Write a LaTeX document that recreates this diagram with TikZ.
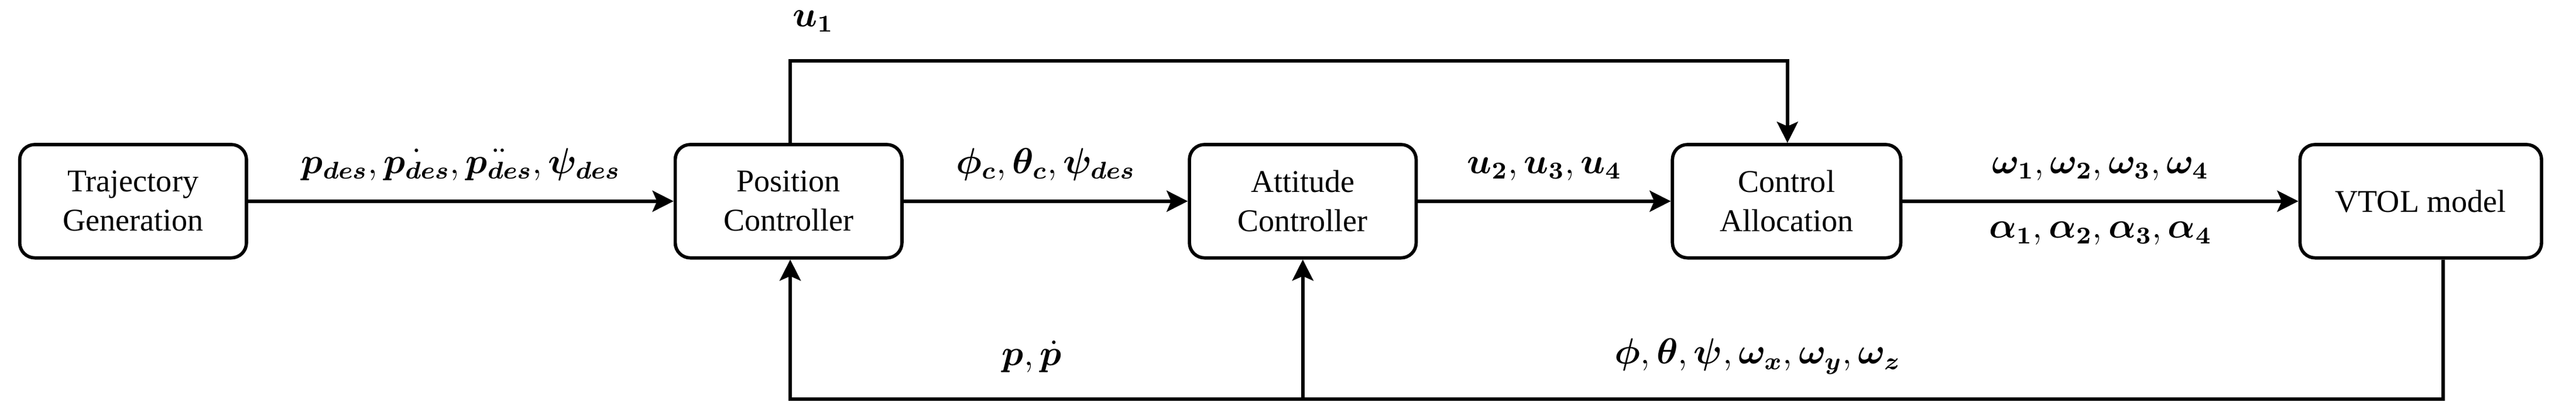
\documentclass[tikz,border=0pt]{standalone}
\usepackage{amsmath,bm}
\usepackage{fontspec}
\setmainfont{Liberation Serif}
\usetikzlibrary{arrows.meta}
\begin{document}
\begin{tikzpicture}[x=0.01915cm,y=-0.01915cm,
  blk/.style={draw,line width=1.1pt,rounded corners=5pt,minimum height=69*0.01915cm,align=center,font=\fontsize{10.5}{13}\selectfont},
  ln/.style={line width=1.1pt},
  ar/.style={ln,-{Stealth[length=7pt,width=7pt,inset=1.5pt]}},
  lb/.style={font=\large}]
\useasboundingbox (0,0) rectangle (1568,255);
\node[blk,minimum width=138*0.01915cm] (tg) at (81,122.5) {Trajectory\\Generation};
\node[blk,minimum width=138*0.01915cm] (pc) at (480,122.5) {Position\\Controller};
\node[blk,minimum width=138*0.01915cm] (ac) at (793,122.5) {Attitude\\Controller};
\node[blk,minimum width=139*0.01915cm] (ca) at (1087.5,122.5) {Control\\Allocation};
\node[blk,minimum width=147*0.01915cm] (vt) at (1473.5,122.5) {VTOL model};
\draw[ar] (tg) -- (pc) node[lb,midway,above=3pt] {$\bm{p_{des}},\dot{\bm{p_{des}}},\ddot{\bm{p_{des}}},\bm{\psi_{des}}$};
\draw[ar] (pc) -- (ac) node[lb,midway,above=3pt] {$\bm{\phi_c},\bm{\theta_c},\bm{\psi_{des}}$};
\draw[ar] (ac) -- (ca) node[lb,midway,above=3pt] {$\bm{u_2},\bm{u_3},\bm{u_4}$};
\draw[ar] (ca) -- (vt) node[lb,midway,above=3pt] {$\bm{\omega_1},\bm{\omega_2},\bm{\omega_3},\bm{\omega_4}$}
  node[lb,midway,below=3pt] {$\bm{\alpha_1},\bm{\alpha_2},\bm{\alpha_3},\bm{\alpha_4}$};
\coordinate (t1) at (481,37);
\coordinate (t2) at (1088,37);
\draw[ar] (pc.north -| t1) -- (t1) -- (t2) -- (ca.north -| t2);
\node[lb] (u1) at (495,13) {$\bm{u_1}$};
\coordinate (b1) at (1487,243);
\coordinate (b2) at (481,243);
\coordinate (b3) at (793,243);
\draw[ar] (vt.south -| b1) -- (b1) -- (b2) -- (pc.south -| b2);
\draw[ar] (b3) -- (ac.south);
\node[lb] (fb1) at (628,217) {$\bm{p},\dot{\bm{p}}$};
\node[lb] (fb2) at (1070,217) {$\bm{\phi},\bm{\theta},\bm{\psi},\bm{\omega_x},\bm{\omega_y},\bm{\omega_z}$};
\end{tikzpicture}
\end{document}
